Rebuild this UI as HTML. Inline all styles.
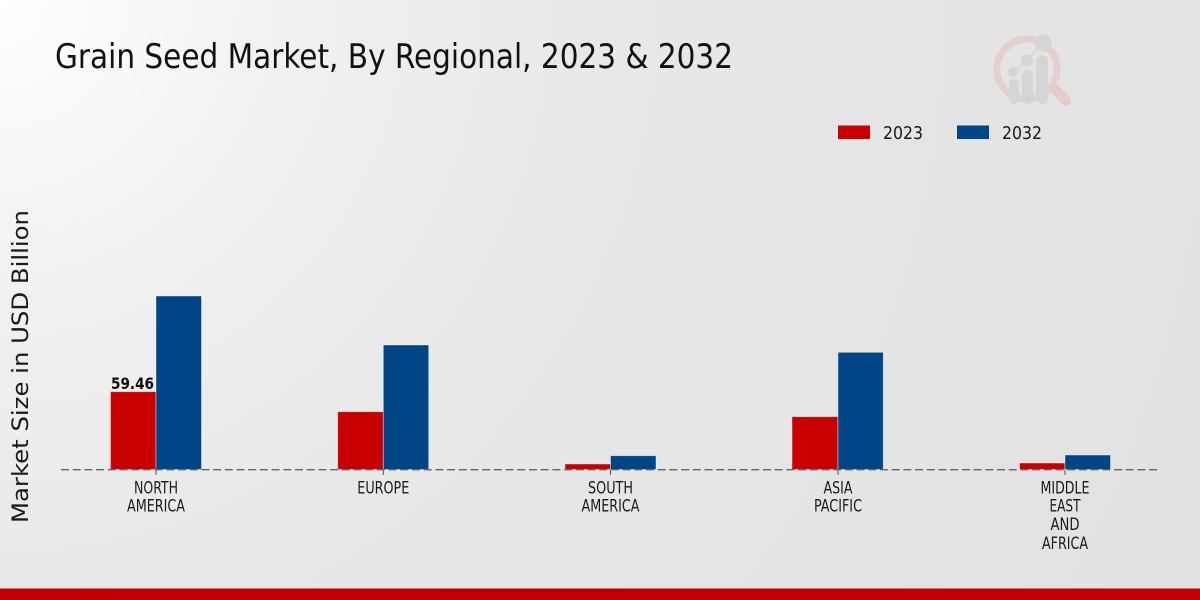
<!DOCTYPE html>
<html>
<head>
<meta charset="utf-8">
<style>
html,body{margin:0;padding:0;}
body{width:1200px;height:600px;overflow:hidden;
background:radial-gradient(circle at 0 0,#ffffff 0px,#f1f1f2 280px,#e8e8e9 600px,#e3e3e3 1100px,#e2e2e2 1400px);}
svg{display:block;}
</style>
</head>
<body>
<svg width="1200" height="600" viewBox="0 0 1200 600" xmlns="http://www.w3.org/2000/svg">
  <!-- logo -->
  <g opacity="0.85">
    <circle cx="1027" cy="69" r="30" fill="none" stroke="#e8cccc" stroke-width="7"/>
    <line x1="1055" y1="89" x2="1066" y2="101" stroke="#e8c6c6" stroke-width="10" stroke-linecap="round"/>
    <line x1="1013" y1="72" x2="1027" y2="60" stroke="#d6d6d6" stroke-width="2"/>
    <line x1="1027" y1="60" x2="1043" y2="43" stroke="#d6d6d6" stroke-width="2"/>
    <rect x="1009" y="79" width="10" height="25" rx="5" fill="#d3d3d3"/>
    <rect x="1022" y="70" width="11" height="34" rx="5.5" fill="#d3d3d3"/>
    <rect x="1036" y="55" width="12" height="49" rx="6" fill="#d3d3d3"/>
    <circle cx="1013" cy="72" r="5" fill="#d3d3d3"/>
    <circle cx="1027" cy="60" r="6" fill="#d3d3d3"/>
    <circle cx="1043" cy="43" r="8.5" fill="#d3d3d3"/>
  </g>

  <!-- title -->
  <text x="55" y="68" font-family="'DejaVu Sans Condensed','Liberation Sans Narrow','DejaVu Sans',sans-serif" font-size="34" fill="#111" textLength="678" lengthAdjust="spacingAndGlyphs">Grain Seed Market, By Regional, 2023 &amp; 2032</text>

  <!-- legend -->
  <rect x="838" y="125.5" width="32" height="13.5" fill="#c80000"/>
  <text x="883" y="139" font-family="'DejaVu Sans Condensed','DejaVu Sans',sans-serif" font-size="18" fill="#1a1a1a" textLength="40" lengthAdjust="spacingAndGlyphs">2023</text>
  <rect x="957" y="125.5" width="32" height="13.5" fill="#004687"/>
  <text x="1002" y="139" font-family="'DejaVu Sans Condensed','DejaVu Sans',sans-serif" font-size="18" fill="#1a1a1a" textLength="40" lengthAdjust="spacingAndGlyphs">2032</text>

  <!-- y-axis label -->
  <text transform="translate(28,366.5) rotate(-90)" text-anchor="middle" font-family="'DejaVu Sans',sans-serif" font-size="22" fill="#1a1a1a" textLength="313" lengthAdjust="spacingAndGlyphs">Market Size in USD Billion</text>

  <!-- bars -->
  <g stroke="#ffffff" stroke-opacity="0.5" stroke-width="0.8">
    <rect x="110.5" y="391.7" width="45.5" height="77.8" fill="#c80000"/>
    <rect x="156" y="296" width="45.5" height="173.5" fill="#004687"/>

    <rect x="337.7" y="411.7" width="45.6" height="57.8" fill="#c80000"/>
    <rect x="383.3" y="345" width="45.4" height="124.5" fill="#004687"/>

    <rect x="565" y="464" width="45.5" height="5.5" fill="#c80000"/>
    <rect x="610.5" y="455.7" width="45.5" height="13.8" fill="#004687"/>

    <rect x="792" y="416.7" width="46" height="52.8" fill="#c80000"/>
    <rect x="838" y="352.3" width="45.3" height="117.2" fill="#004687"/>

    <rect x="1019.5" y="463" width="45.5" height="6.5" fill="#c80000"/>
    <rect x="1065" y="455" width="45.5" height="14.5" fill="#004687"/>
  </g>

  <!-- baseline -->
  <line x1="61" y1="469.7" x2="1158" y2="469.7" stroke="#666" stroke-width="1.4" stroke-dasharray="8,3.7"/>
  <g stroke="#555" stroke-width="1">
    <line x1="156" y1="470" x2="156" y2="475"/>
    <line x1="383.3" y1="470" x2="383.3" y2="475"/>
    <line x1="610.5" y1="470" x2="610.5" y2="475"/>
    <line x1="838" y1="470" x2="838" y2="475"/>
    <line x1="1065" y1="470" x2="1065" y2="475"/>
  </g>

  <!-- value label -->
  <text x="111" y="389" font-family="'DejaVu Sans Condensed','DejaVu Sans',sans-serif" font-weight="bold" font-size="16" fill="#111" textLength="43" lengthAdjust="spacingAndGlyphs">59.46</text>

  <!-- category labels -->
  <g font-family="'DejaVu Sans Condensed','DejaVu Sans',sans-serif" font-size="16.5" fill="#1a1a1a" text-anchor="middle">
    <text x="156" y="493.5" textLength="44" lengthAdjust="spacingAndGlyphs">NORTH</text>
    <text x="156" y="511.5" textLength="58" lengthAdjust="spacingAndGlyphs">AMERICA</text>

    <text x="383.3" y="493.5" textLength="52" lengthAdjust="spacingAndGlyphs">EUROPE</text>

    <text x="610.5" y="493.5" textLength="45" lengthAdjust="spacingAndGlyphs">SOUTH</text>
    <text x="610.5" y="511.5" textLength="58" lengthAdjust="spacingAndGlyphs">AMERICA</text>

    <text x="838" y="493.5" textLength="29" lengthAdjust="spacingAndGlyphs">ASIA</text>
    <text x="838" y="511.5" textLength="48" lengthAdjust="spacingAndGlyphs">PACIFIC</text>

    <text x="1065" y="493.5" textLength="49" lengthAdjust="spacingAndGlyphs">MIDDLE</text>
    <text x="1065" y="511.5" textLength="31" lengthAdjust="spacingAndGlyphs">EAST</text>
    <text x="1065" y="530" textLength="29" lengthAdjust="spacingAndGlyphs">AND</text>
    <text x="1065" y="549" textLength="46" lengthAdjust="spacingAndGlyphs">AFRICA</text>
  </g>

  <!-- bottom band -->
  <rect x="0" y="588.5" width="1200" height="11.5" fill="#c00000"/>
</svg>
</body>
</html>
